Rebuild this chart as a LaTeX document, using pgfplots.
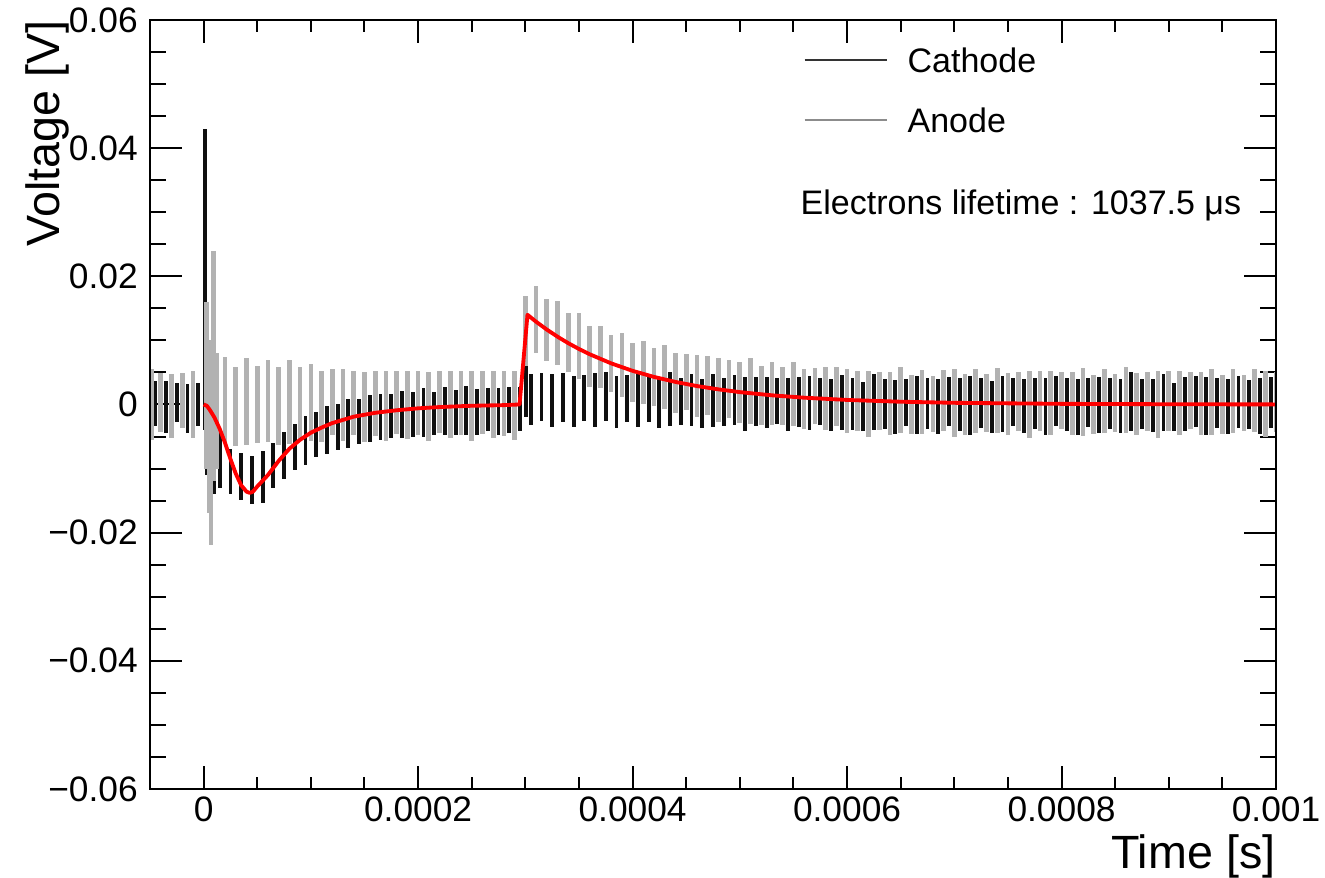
\documentclass[border=0pt]{standalone}
\usepackage{fontspec}
\setmainfont{Liberation Sans}
\usepackage{pgfplots}
\usepackage{pgfplotstable}
\pgfplotsset{compat=1.18}
\definecolor{anodegray}{RGB}{178,178,178}
\definecolor{cathblack}{RGB}{15,15,15}
\definecolor{fitred}{RGB}{255,0,0}

% time in microseconds, centre and half-span of each oscillation stroke (V)
\pgfplotstableread{
t c h
-45 0.0002 0.0035
-35 -0.0004 0.0040
-25 0.0003 0.0030
-15 -0.0006 0.0038
-5 0.0000 0.0033
1.5 0.0195 0.0235
3.5 0.0025 0.0135
6 -0.0040 0.0080
10 -0.0080 0.0060
15 -0.0085 0.0045
25 -0.0105 0.0035
35 -0.0112 0.0037
45 -0.0118 0.0038
55 -0.0113 0.0040
65 -0.0095 0.0035
75 -0.0080 0.0037
85 -0.0066 0.0036
95 -0.0056 0.0038
105 -0.0047 0.0035
115 -0.0040 0.0037
125 -0.0035 0.0036
135 -0.0030 0.0038
145 -0.0026 0.0035
155 -0.0022 0.0037
165 -0.0020 0.0036
175 -0.0018 0.0034
185 -0.0016 0.0037
195 -0.0015 0.0035
205 -0.0012 0.0038
215 -0.0014 0.0034
225 -0.0010 0.0037
235 -0.0013 0.0035
245 -0.0009 0.0038
255 -0.0012 0.0036
265 -0.0008 0.0034
275 -0.0011 0.0037
285 -0.0009 0.0036
295 -0.0007 0.0035
300.5 0.0020 0.0040
305 0.0008 0.0040
315 0.0012 0.0037
325 0.0006 0.0041
335 0.0011 0.0038
345 0.0005 0.0040
355 0.0010 0.0036
365 0.0007 0.0042
375 0.0012 0.0038
385 0.0004 0.0040
395 0.0009 0.0037
405 0.0006 0.0041
415 0.0010 0.0038
425 0.0003 0.0039
435 0.0008 0.0042
445 0.0005 0.0037
455 0.0007 0.0040
465 0.0002 0.0038
475 0.0006 0.0041
485 0.0004 0.0037
495 0.0007 0.0039
505 0.0001 0.0042
515 0.0005 0.0038
525 0.0003 0.0040
535 0.0006 0.0036
545 0.0000 0.0041
555 0.0004 0.0039
565 0.0002 0.0042
575 0.0005 0.0037
585 -0.0001 0.0040
595 0.0003 0.0043
605 0.0001 0.0041
615 -0.0003 0.0038
625 0.0004 0.0044
635 0.0000 0.0039
645 -0.0004 0.0042
655 0.0003 0.0037
665 -0.0001 0.0045
675 0.0002 0.0040
685 -0.0003 0.0043
695 0.0005 0.0038
705 0.0000 0.0042
715 -0.0002 0.0046
725 0.0003 0.0039
735 -0.0004 0.0041
745 0.0001 0.0044
755 0.0004 0.0038
765 -0.0002 0.0042
775 0.0002 0.0040
785 -0.0003 0.0045
795 0.0005 0.0039
805 0.0000 0.0041
815 -0.0004 0.0043
825 0.0003 0.0038
835 -0.0001 0.0044
845 0.0002 0.0040
855 -0.0003 0.0042
865 0.0004 0.0046
875 0.0000 0.0039
885 -0.0002 0.0041
895 0.0003 0.0044
905 -0.0004 0.0038
915 0.0001 0.0042
925 0.0005 0.0040
935 -0.0002 0.0045
945 0.0002 0.0039
955 -0.0003 0.0043
965 0.0004 0.0041
975 0.0000 0.0038
985 -0.0002 0.0044
995 0.0003 0.0040
}\cathode

\pgfplotstableread{
t c h
-48 0.0000 0.0055
-40 0.0003 0.0046
-30 -0.0002 0.0050
-20 0.0006 0.0043
-10 0.0000 0.0052
2.5 0.0030 0.0130
5 -0.0035 0.0135
7 -0.0085 0.0135
9 0.0060 0.0180
12.5 -0.0010 0.0090
20 0.0008 0.0066
30 -0.0003 0.0062
40 0.0005 0.0068
50 0.0000 0.0060
60 0.0006 0.0064
70 -0.0002 0.0061
80 0.0004 0.0066
90 0.0001 0.0058
100 0.0003 0.0060
110 -0.0003 0.0055
120 0.0004 0.0052
130 -0.0001 0.0056
140 0.0003 0.0050
150 -0.0004 0.0054
160 0.0002 0.0051
170 -0.0002 0.0055
180 0.0003 0.0049
190 -0.0001 0.0053
200 0.0002 0.0050
210 -0.0003 0.0054
220 0.0004 0.0048
230 0.0000 0.0052
240 0.0002 0.0050
250 -0.0002 0.0055
260 0.0003 0.0049
270 0.0000 0.0053
280 0.0002 0.0051
290 -0.0001 0.0054
300 0.0115 0.0055
310 0.0133 0.0052
320 0.0116 0.0048
330 0.0111 0.0050
340 0.0096 0.0046
350 0.0091 0.0051
360 0.0075 0.0047
370 0.0074 0.0049
380 0.0064 0.0045
390 0.0062 0.0050
400 0.0050 0.0046
410 0.0050 0.0049
420 0.0043 0.0045
430 0.0043 0.0050
440 0.0033 0.0047
450 0.0035 0.0044
460 0.0029 0.0049
470 0.0030 0.0046
480 0.0022 0.0050
490 0.0024 0.0045
500 0.0019 0.0048
510 0.0021 0.0051
520 0.0014 0.0046
530 0.0017 0.0049
540 0.0013 0.0045
550 0.0016 0.0050
560 0.0009 0.0047
570 0.0013 0.0044
580 0.0009 0.0049
590 0.0012 0.0046
600 0.0005 0.0050
610 0.0006 0.0047
620 0.0001 0.0051
630 0.0005 0.0045
640 0.0002 0.0049
650 0.0007 0.0052
660 0.0000 0.0046
670 0.0004 0.0050
680 0.0001 0.0044
690 0.0006 0.0048
700 0.0003 0.0053
710 0.0000 0.0047
720 0.0005 0.0050
730 0.0002 0.0045
740 0.0006 0.0051
750 0.0001 0.0048
760 0.0004 0.0046
770 0.0000 0.0052
780 0.0005 0.0047
790 0.0002 0.0050
800 0.0006 0.0044
810 0.0001 0.0049
820 0.0004 0.0053
830 0.0000 0.0046
840 0.0005 0.0050
850 0.0002 0.0045
860 0.0007 0.0051
870 0.0001 0.0048
880 0.0004 0.0046
890 0.0000 0.0052
900 0.0005 0.0047
910 0.0002 0.0050
920 0.0006 0.0045
930 0.0001 0.0049
940 0.0004 0.0052
950 0.0000 0.0046
960 0.0005 0.0050
970 0.0002 0.0044
980 0.0006 0.0049
990 0.0001 0.0051
1000 0.0004 0.0047
}\anode

\pgfplotstableread{
t v
0 0
3 -0.0002
6 -0.0009
10 -0.0020
15 -0.0038
20 -0.0060
25 -0.0085
30 -0.0108
35 -0.0126
40 -0.0136
43 -0.0138
46 -0.0136
50 -0.0128
55 -0.0119
60 -0.0110
70 -0.0088
80 -0.0069
90 -0.0055
100 -0.0044
110 -0.0036
120 -0.0029
130 -0.0024
140 -0.0019
160 -0.0013
180 -0.0009
200 -0.0006
220 -0.0004
250 -0.0002
280 -0.0001
294.6 0
302 0.0140
310 0.01292
320 0.01169
330 0.01058
340 0.00957
350 0.00866
360 0.00784
380 0.00642
400 0.00525
420 0.00430
440 0.00352
460 0.00288
480 0.00236
500 0.00193
530 0.00143
560 0.00106
600 0.00071
650 0.00043
700 0.00026
800 0.00010
900 0.00004
1000 0.00001
}\fit

\begin{document}
\begin{tikzpicture}
% main axis: data, y ticks, legend
\begin{axis}[
  name=ax, scale only axis, width=337.8pt, height=230.7pt,
  xmin=-50, xmax=1000, ymin=-0.06, ymax=0.06,
  axis line style={line width=0.85pt},
  every tick/.style={black, line width=0.6pt},
  major tick length=9.6pt, minor tick length=4.8pt,
  xtick=\empty,
  ytick={-0.06,-0.04,-0.02,0,0.02,0.04,0.06},
  yticklabels={−0.06,−0.04,−0.02,0,0.02,0.04,0.06},
  minor y tick num=3,
  tick label style={font=\fontsize{10.6}{12}\selectfont},
  yticklabel style={inner sep=2.5pt, xshift=-1pt},
  ylabel={Voltage [V]},
  ylabel style={at={(rel axis cs:-0.0808,1)}, anchor=base east, inner sep=0pt, font=\fontsize{14}{16}\selectfont},
  legend style={draw=none, fill=none, at={(0.5799,0.9649)}, anchor=north west, inner sep=0pt,
    row sep=10.5pt, column sep=6pt, font=\fontsize{10.2}{12}\selectfont,
    nodes={inner sep=0pt, text height=7.5pt, text depth=0pt}},
  legend cell align=left,
  legend image code/.code={\draw[#1] (0pt,0pt) -- (24.6pt,0pt);},
]
\addplot[draw=none, mark=none, forget plot,
  error bars/.cd, y dir=both, y explicit, error mark=none,
  error bar style={draw=cathblack, line width=1.15pt, solid}]
  table[x=t, y=c, y error=h] {\cathode};
\addplot[draw=none, mark=none, forget plot,
  error bars/.cd, y dir=both, y explicit, error mark=none,
  error bar style={draw=anodegray, line width=1.4pt, solid}]
  table[x=t, y=c, y error=h] {\anode};
\addplot[fitred, line width=1.15pt, line join=round, mark=none, forget plot]
  table[x=t, y=v] {\fit};
\addlegendimage{color=black!80, line width=0.6pt}
\addlegendentry{Cathode}
\addlegendimage{color=black!45, line width=0.45pt}
\addlegendentry{Anode}
\node[anchor=base west, inner sep=0pt, font=\fontsize{10.2}{12}\selectfont]
  at (rel axis cs:0.5773,0.7477) {Electrons lifetime : 1037.5 μs};
\end{axis}
% overlay axis: x ticks (shorter, as in the reference) and x title
\begin{axis}[
  at={(ax.south west)}, anchor=south west,
  scale only axis, width=337.8pt, height=230.7pt,
  xmin=-50, xmax=1000, ymin=-0.06, ymax=0.06,
  axis line style={line width=0.85pt},
  every tick/.style={black, line width=0.6pt},
  major tick length=6.9pt, minor tick length=3.5pt,
  ytick=\empty,
  xtick={0,200,400,600,800,1000},
  xticklabels={0,0.0002,0.0004,0.0006,0.0008,0.001},
  minor x tick num=3,
  tick label style={font=\fontsize{10.6}{12}\selectfont},
  xticklabel style={yshift=1.2pt},
  xlabel={Time [s]},
  xlabel style={at={(rel axis cs:1,-0.104)}, anchor=base east, inner sep=0pt, font=\fontsize{14}{16}\selectfont},
]
\end{axis}
\pgfresetboundingbox
\path[use as bounding box] ([xshift=-45pt,yshift=-26.7pt]ax.south west) rectangle ([xshift=14.7pt,yshift=6pt]ax.north east);
\end{tikzpicture}
\end{document}
